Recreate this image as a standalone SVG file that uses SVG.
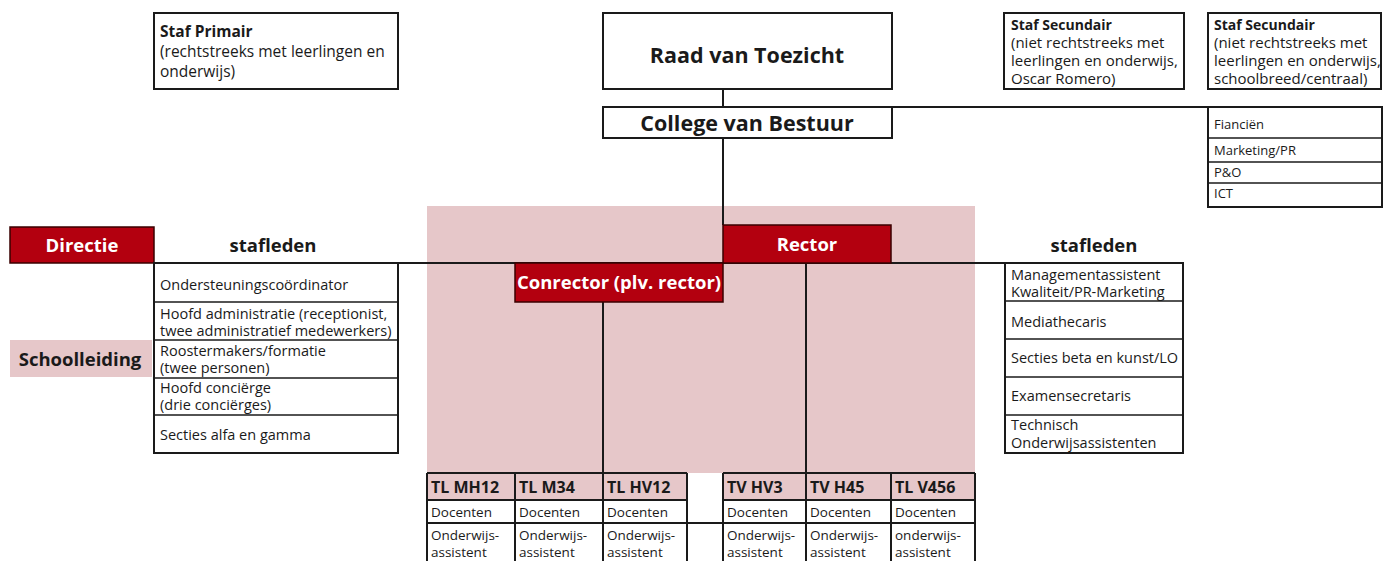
<svg xmlns="http://www.w3.org/2000/svg" width="1391" height="561" viewBox="0 0 1391 561">
<style>
text{font-family:"Open Sans","Noto Sans","Liberation Sans",sans-serif;fill:#1a1a1a}
.box{fill:#fff;stroke:#1a1a1a;stroke-width:2}
.cell{fill:none;stroke:#1a1a1a;stroke-width:1.5}
.red{fill:#b3000f;stroke:#3a0000;stroke-width:1.5}
.pink{fill:#e6c7c9}
.conn{stroke:#1a1a1a;stroke-width:2;fill:none}
.row{font-size:14.5px}
.sec{font-size:15px}
.sect{font-size:14px;font-weight:700}
.fin{font-size:13px}
.prim{font-size:15.5px}
.hd{font-size:16px;font-weight:700}
.tb{font-size:13.5px}
.b{font-weight:700}
.w{fill:#fff;font-weight:700;font-size:18.5px}
.big{font-size:21.5px;font-weight:700}
.mid{font-size:18.5px;font-weight:700}
</style>
<rect width="1391" height="561" fill="#fff"/>
<rect id="schoolleiding-area" class="pink" x="427" y="206" width="548" height="267"/>

<g id="connectors">
<line class="conn" x1="723" y1="89" x2="723" y2="107"/>
<line class="conn" x1="723" y1="107" x2="1208" y2="107"/>
<line class="conn" x1="723" y1="138" x2="723" y2="225"/>
<line class="conn" x1="154" y1="263" x2="1005" y2="263"/>
<line class="conn" x1="603" y1="302" x2="603" y2="473"/>
<line class="conn" x1="806" y1="263" x2="806" y2="473"/>
<line class="conn" x1="687" y1="523" x2="723" y2="523"/>
</g>

<g id="staf-primair">
<rect class="box" x="154" y="13" width="244" height="76"/>
<text class="prim b" x="160" y="37">Staf Primair</text>
<text class="prim" x="160" y="57">(rechtstreeks met leerlingen en</text>
<text class="prim" x="160" y="77">onderwijs)</text>
</g>

<g id="raad">
<rect class="box" x="603" y="13" width="289" height="76"/>
<text class="big" x="747" y="63" text-anchor="middle">Raad van Toezicht</text>
</g>

<g id="college">
<rect class="box" x="603" y="107" width="289" height="31"/>
<text class="big" x="747" y="131" text-anchor="middle">College van Bestuur</text>
</g>

<g id="staf-secundair-1">
<rect class="box" x="1004" y="13" width="180" height="76"/>
<text class="sect" x="1011" y="30">Staf Secundair</text>
<text class="sec" x="1011" y="48">(niet rechtstreeks met</text>
<text class="sec" x="1011" y="66">leerlingen en onderwijs,</text>
<text class="sec" x="1011" y="84">Oscar Romero)</text>
</g>

<g id="staf-secundair-2">
<rect class="box" x="1208" y="13" width="173" height="76"/>
<text class="sect" x="1214" y="30">Staf Secundair</text>
<text class="sec" x="1214" y="48">(niet rechtstreeks met</text>
<text class="sec" x="1214" y="66">leerlingen en onderwijs,</text>
<text class="sec" x="1214" y="84">schoolbreed/centraal)</text>
</g>

<g id="centraal-staf">
<rect class="box" x="1208" y="107" width="174" height="100"/>
<line class="cell" x1="1208" y1="138" x2="1382" y2="138"/>
<line class="cell" x1="1208" y1="162" x2="1382" y2="162"/>
<line class="cell" x1="1208" y1="183" x2="1382" y2="183"/>
<text class="fin" x="1214" y="129">Fianciën</text>
<text class="fin" x="1214" y="155">Marketing/PR</text>
<text class="fin" x="1214" y="177">P&amp;O</text>
<text class="fin" x="1214" y="198">ICT</text>
</g>

<g id="directie">
<rect class="red" x="10" y="227" width="144" height="36"/>
<text class="w" x="82" y="252" text-anchor="middle">Directie</text>
</g>

<g id="stafleden-links-kop">
<text class="mid" x="273" y="252" text-anchor="middle">stafleden</text>
</g>

<g id="schoolleiding">
<rect class="pink" x="10" y="340" width="142" height="37"/>
<text class="mid" x="80" y="366" text-anchor="middle">Schoolleiding</text>
</g>

<g id="stafleden-links">
<rect class="box" x="154" y="263" width="244" height="190"/>
<line class="cell" x1="154" y1="302" x2="398" y2="302"/>
<line class="cell" x1="154" y1="340" x2="398" y2="340"/>
<line class="cell" x1="154" y1="378" x2="398" y2="378"/>
<line class="cell" x1="154" y1="415" x2="398" y2="415"/>
<text class="row" x="160" y="290">Ondersteuningscoördinator</text>
<text class="row" x="160" y="319">Hoofd administratie (receptionist,</text>
<text class="row" x="160" y="336">twee administratief medewerkers)</text>
<text class="row" x="160" y="356">Roostermakers/formatie</text>
<text class="row" x="160" y="373">(twee personen)</text>
<text class="row" x="160" y="393">Hoofd conciërge</text>
<text class="row" x="160" y="410">(drie conciërges)</text>
<text class="row" x="160" y="440">Secties alfa en gamma</text>
</g>

<g id="rector">
<rect class="red" x="723" y="225" width="168" height="38"/>
<text class="w" x="807" y="251" text-anchor="middle">Rector</text>
</g>

<g id="conrector">
<rect class="red" x="515" y="263" width="208" height="39"/>
<text class="w" x="619" y="289" text-anchor="middle">Conrector (plv. rector)</text>
</g>

<g id="stafleden-rechts-kop">
<text class="mid" x="1094" y="252" text-anchor="middle">stafleden</text>
</g>

<g id="stafleden-rechts">
<rect class="box" x="1005" y="263" width="178" height="190"/>
<line class="cell" x1="1005" y1="301" x2="1183" y2="301"/>
<line class="cell" x1="1005" y1="339" x2="1183" y2="339"/>
<line class="cell" x1="1005" y1="377" x2="1183" y2="377"/>
<line class="cell" x1="1005" y1="415" x2="1183" y2="415"/>
<text class="row" x="1011" y="280">Managementassistent</text>
<text class="row" x="1011" y="297">Kwaliteit/PR-Marketing</text>
<text class="row" x="1011" y="327">Mediathecaris</text>
<text class="row" x="1011" y="363">Secties beta en kunst/LO</text>
<text class="row" x="1011" y="401">Examensecretaris</text>
<text class="row" x="1011" y="430">Technisch</text>
<text class="row" x="1011" y="448">Onderwijsassistenten</text>
</g>

<g id="teams-links">
<rect class="pink" x="427" y="473" width="260" height="27"/>
<rect x="427" y="500" width="260" height="61" fill="#fff"/>
<path class="cell" d="M427 473H687M427 500H687M427 523H687M427 473V561M515 473V561M603 473V561M687 473V561" style="stroke-width:2"/>
<text class="hd" x="431" y="493">TL MH12</text>
<text class="hd" x="519" y="493">TL M34</text>
<text class="hd" x="607" y="493">TL HV12</text>
<text class="tb" x="431" y="517">Docenten</text>
<text class="tb" x="519" y="517">Docenten</text>
<text class="tb" x="607" y="517">Docenten</text>
<text class="tb" x="431" y="540">Onderwijs-</text>
<text class="tb" x="519" y="540">Onderwijs-</text>
<text class="tb" x="607" y="540">Onderwijs-</text>
<text class="tb" x="431" y="557">assistent</text>
<text class="tb" x="519" y="557">assistent</text>
<text class="tb" x="607" y="557">assistent</text>
</g>

<g id="teams-rechts">
<rect class="pink" x="723" y="473" width="252" height="27"/>
<rect x="723" y="500" width="252" height="61" fill="#fff"/>
<path class="cell" d="M723 473H975M723 500H975M723 523H975M723 473V561M806 473V561M891 473V561M975 473V561" style="stroke-width:2"/>
<text class="hd" x="727" y="493">TV HV3</text>
<text class="hd" x="810" y="493">TV H45</text>
<text class="hd" x="895" y="493">TL V456</text>
<text class="tb" x="727" y="517">Docenten</text>
<text class="tb" x="810" y="517">Docenten</text>
<text class="tb" x="895" y="517">Docenten</text>
<text class="tb" x="727" y="540">Onderwijs-</text>
<text class="tb" x="810" y="540">Onderwijs-</text>
<text class="tb" x="895" y="540">onderwijs-</text>
<text class="tb" x="727" y="557">assistent</text>
<text class="tb" x="810" y="557">assistent</text>
<text class="tb" x="895" y="557">assistent</text>
</g>
</svg>
